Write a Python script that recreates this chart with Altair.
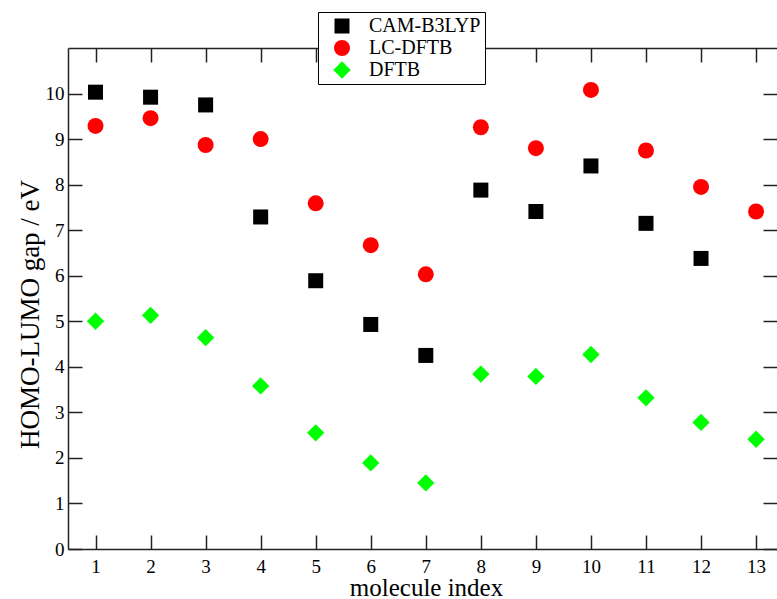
import altair as alt
import pandas as pd

# ---- data ----
molecule_index = [1, 2, 3, 4, 5, 6, 7, 8, 9, 10, 11, 12, 13]
cam_b3lyp = [10.03, 9.92, 9.75, 7.29, 5.89, 4.93, 4.25, 7.88, 7.41, 8.41, 7.15, 6.38, None]
lc_dftb = [9.29, 9.46, 8.87, 9.00, 7.59, 6.67, 6.03, 9.26, 8.80, 10.08, 8.75, 7.95, 7.41]
dftb = [5.00, 5.13, 4.64, 3.58, 2.55, 1.89, 1.45, 3.84, 3.79, 4.27, 3.32, 2.78, 2.41]
methods = ["CAM-B3LYP", "LC-DFTB", "DFTB"]
y_ticks = [0, 1, 2, 3, 4, 5, 6, 7, 8, 9, 10]

rows = []
for name, series in zip(methods, [cam_b3lyp, lc_dftb, dftb]):
    for i, v in zip(molecule_index, series):
        if v is not None:
            rows.append({"index": i, "gap": v, "method": name})
df = pd.DataFrame(rows)

FONT = "Liberation Serif"
LINE = "#222222"

xscale = alt.Scale(domain=[0.5, 13.38], nice=False, zero=False)
yscale = alt.Scale(domain=[0, 11], nice=False, zero=False)

legend = alt.Legend(
    title=None, orient="none", legendX=250, legendY=-36,
    fillColor="white", strokeColor="black",
    padding=4, rowPadding=2, symbolOffset=10, labelOffset=17,
    symbolSize=240, symbolStrokeWidth=0,
    labelFont=FONT, labelFontSize=20, labelColor="black",
)

points = alt.Chart(df).mark_point(filled=True, opacity=1).encode(
    x=alt.X("index:Q", scale=xscale, axis=alt.Axis(
        values=molecule_index, ticks=False, tickSize=0, labelPadding=8,
        labelFont=FONT, labelFontSize=19, labelColor="black",
        domain=True, domainColor=LINE, domainWidth=1.5, grid=False,
        title="molecule index", titleFont=FONT, titleFontSize=25,
        titleFontWeight="normal", titleColor="black",
        titleX=358, titleY=46, titleBaseline="alphabetic", titleAlign="center")),
    y=alt.Y("gap:Q", scale=yscale, axis=alt.Axis(
        values=y_ticks, ticks=False, tickSize=0, labelPadding=4,
        labelFont=FONT, labelFontSize=19, labelColor="black",
        domain=True, domainColor=LINE, domainWidth=1.5, grid=False,
        title="HOMO-LUMO gap / eV", titleFont=FONT, titleFontSize=27,
        titleFontWeight="normal", titleColor="black", titleAngle=270,
        titleX=-30, titleY=266, titleBaseline="alphabetic", titleAlign="center")),
    color=alt.Color("method:N", scale=alt.Scale(domain=methods, range=["#000000", "#ff0000", "#00ff00"]), legend=legend),
    shape=alt.Shape("method:N", scale=alt.Scale(domain=methods, range=["square", "circle", "diamond"]), legend=legend),
    size=alt.Size("method:N", scale=alt.Scale(type="ordinal", domain=methods, range=[225, 256, 300]), legend=None),
)

def tick_axis(orient, vals, offset, ticks=True, domain=False):
    return alt.Axis(orient=orient, values=vals, offset=offset, ticks=ticks,
                    tickSize=14 if ticks else 0, tickColor=LINE, tickWidth=1.5,
                    labels=False, domain=domain, domainColor=LINE, domainWidth=1.5,
                    grid=False, title=None)

ghost = alt.Chart(df).mark_point(opacity=0)

inner_bl = ghost.encode(
    x=alt.X("index:Q", scale=xscale, axis=tick_axis("bottom", molecule_index, -14)),
    y=alt.Y("gap:Q", scale=yscale, axis=tick_axis("left", y_ticks, -14)),
)
inner_tr = ghost.encode(
    x=alt.X("index:Q", scale=xscale, axis=tick_axis("top", molecule_index, -14)),
    y=alt.Y("gap:Q", scale=yscale, axis=tick_axis("right", y_ticks, -14)),
)
top_line = ghost.encode(
    x=alt.X("index:Q", scale=xscale, axis=tick_axis("top", molecule_index, 0, ticks=False, domain=True)),
    y=alt.Y("gap:Q", scale=yscale, axis=None),
)

chart = alt.layer(inner_bl, inner_tr, top_line, points).resolve_axis(
    x="independent", y="independent"
).properties(
    width=709, height=501,
    padding={"left": 68, "top": 48, "right": 0, "bottom": 50},
    autosize=alt.AutoSizeParams(type="none"),
    background="white",
).configure_view(stroke=None)

chart.save("out.html", embed_options={"renderer": "svg", "actions": False})
